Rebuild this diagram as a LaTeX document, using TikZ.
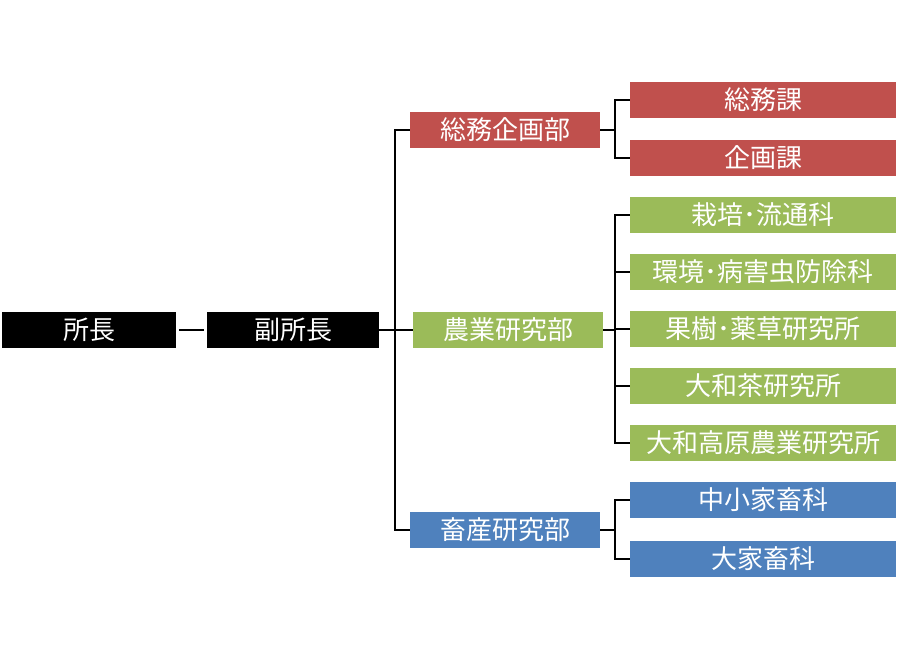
\documentclass[tikz,border=0pt]{standalone}
\usepackage{fontspec}
\setmainfont{Noto Sans CJK JP}
\begin{document}
\begin{tikzpicture}[x=1pt,y=-1pt,
  box/.style={draw=none,minimum height=36pt,inner sep=0pt,text=white,font=\fontsize{26}{28}\selectfont},
  ln/.style={line width=1.8pt,black}]
\useasboundingbox (0,0) rectangle (912,662);
\definecolor{cr}{HTML}{C0504D}\definecolor{cg}{HTML}{9BBB59}\definecolor{cb}{HTML}{4F81BD}
\node[box,fill=black,minimum width=174pt] (a) at (89,330) {所長};
\node[box,fill=black,minimum width=172pt] (b) at (293,330) {副所長};
\node[box,fill=cr,minimum width=190pt] (d1) at (505,130) {総務企画部};
\node[box,fill=cg,minimum width=190pt] (d2) at (508,330) {農業研究部};
\node[box,fill=cb,minimum width=190pt] (d3) at (505,530) {畜産研究部};
\foreach \n/\y/\c/\t in {c1/100/cr/総務課,c2/158/cr/企画課,c3/215/cg/栽培･流通科,c4/272/cg/環境･病害虫防除科,c5/329/cg/果樹･薬草研究所,c6/386/cg/大和茶研究所,c7/443/cg/大和高原農業研究所,c8/500/cb/中小家畜科,c9/559/cb/大家畜科}
  \node[box,fill=\c,minimum width=266pt] (\n) at (763,\y) {\t};
\draw[ln] ([xshift=3pt]a.east) -- ([xshift=-3pt]b.west);
\coordinate (v) at (395,330);
\draw[ln] (b.east) -- (v);
\draw[ln] (d1.west) -| (v |- d3.west) -- (d3.west);
\draw[ln] (v) -- (d2.west);
\draw[ln] (d1.east) -- (615,130);
\draw[ln] (c1.west) -| (615,158) -- (c2.west);
\draw[ln] (d2.east) -- (615,330);
\draw[ln] (c3.west) -| (615,443) -- (c7.west);
\foreach \n in {c4,c5,c6} \draw[ln] (615,0 |- \n.west) -- (\n.west);
\draw[ln] (d3.east) -- (615,530);
\draw[ln] (c8.west) -| (615,559) -- (c9.west);
\end{tikzpicture}
\end{document}
